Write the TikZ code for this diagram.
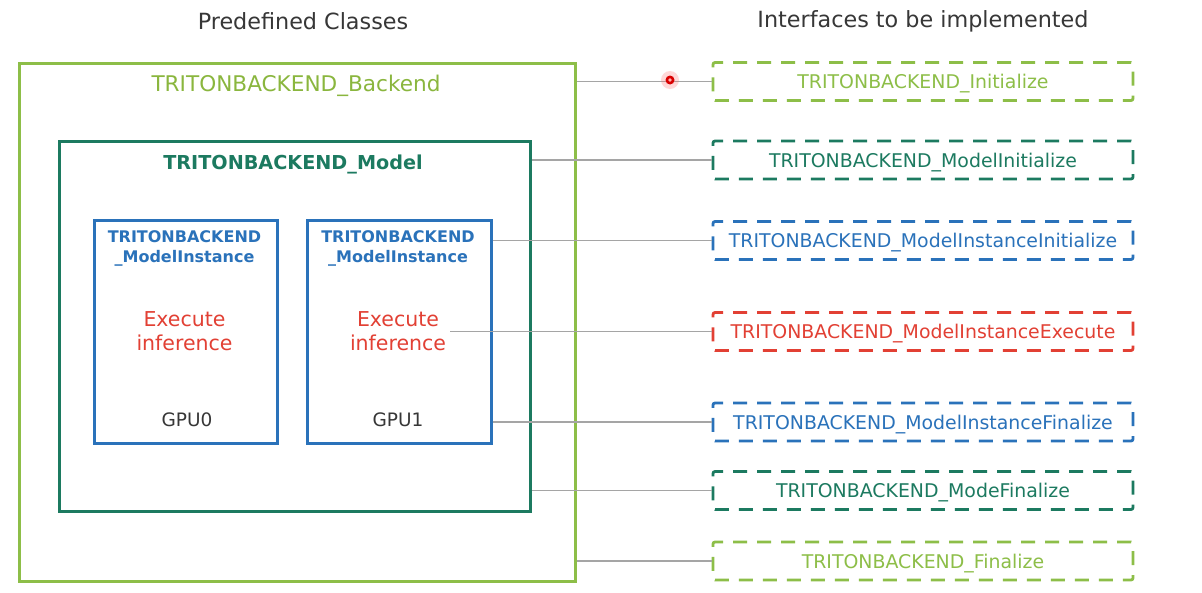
\documentclass[tikz,border=0pt]{standalone}
\usepackage{fontspec}
\setmainfont{DejaVu Sans}
\definecolor{lgreen}{RGB}{141,190,72}
\definecolor{lgreentxt}{RGB}{138,182,62}
\definecolor{teal2}{RGB}{28,122,96}
\definecolor{blue2}{RGB}{42,114,186}
\definecolor{red2}{RGB}{226,64,52}
\definecolor{gray2}{RGB}{165,165,165}
\definecolor{dark2}{RGB}{55,55,55}
\tikzset{
  frame/.style={draw, line width=#1, inner sep=0pt, anchor=north west},
  iface/.style={draw=#1, text=#1, line width=2.8pt, dash pattern=on 14pt off 10pt,
    rounded corners=2pt, minimum width=420pt, minimum height=38pt, inner sep=0pt,
    text height=16pt, text depth=2pt,
    font=\fontsize{18.9}{22}\selectfont},
  conn/.style={draw=gray2, line width=1.3pt},
  head/.style={font=\fontsize{22.3}{26}\selectfont, text=dark2},
}
\begin{document}
\begin{tikzpicture}[x=1pt,y=-1pt]
\useasboundingbox[fill=white] (0,0) rectangle (1202,592);
% headers
\node[head] (h1) at (303,21) {Predefined Classes};
\node[head] (h2) at (923,21) {Interfaces to be implemented};
% predefined classes
\node[frame=3pt, draw=lgreen, minimum width=556pt, minimum height=518pt] (backend) at (18,62) {};
\node[text=lgreentxt, font=\fontsize{21.6}{24}\selectfont] (backendt) at (296,85.5) {TRITONBACKEND\_Backend};
\node[frame=3.2pt, draw=teal2, minimum width=471pt, minimum height=370pt] (model) at (58,140) {};
\node[text=teal2, font=\bfseries\fontsize{19.2}{22}\selectfont] (modelt) at (293,164.5) {TRITONBACKEND\_Model};
\node[frame=2.6pt, draw=blue2, minimum width=183pt, minimum height=223pt] (inst1) at (93,219) {};
\node[frame=2.6pt, draw=blue2, minimum width=184pt, minimum height=223pt] (inst2) at (306,219) {};
\node[text=blue2, font=\bfseries\fontsize{16}{20}\selectfont, align=center] (inst1t) at (184.5,248) {TRITONBACKEND\\\_ModelInstance};
\node[text=blue2, font=\bfseries\fontsize{16}{20}\selectfont, align=center] (inst2t) at (398,248) {TRITONBACKEND\\\_ModelInstance};
\node[text=red2, font=\fontsize{20.5}{23.5}\selectfont, align=center, inner sep=0pt] (exec1) at (184.5,331) {Execute\\inference};
\node[text=red2, font=\fontsize{20.5}{23.5}\selectfont, align=center, inner sep=0pt] (exec2) at (398,331) {Execute\\inference};
\node[text=dark2, font=\fontsize{18.5}{20}\selectfont] (gpu0) at (187,420) {GPU0};
\node[text=dark2, font=\fontsize{18.5}{20}\selectfont] (gpu1) at (398,420) {GPU1};
% interfaces
\node[iface=lgreen] (ini) at (923,81.5) {TRITONBACKEND\_Initialize};
\node[iface=teal2] (mini) at (923,160) {TRITONBACKEND\_ModelInitialize};
\node[iface=blue2] (iini) at (923,240.5) {TRITONBACKEND\_ModelInstanceInitialize};
\node[iface=red2] (iexe) at (923,331.5) {TRITONBACKEND\_ModelInstanceExecute};
\node[iface=blue2] (ifin) at (923,422) {TRITONBACKEND\_ModelInstanceFinalize};
\node[iface=teal2] (mfin) at (923,490.5) {TRITONBACKEND\_ModeFinalize};
\node[iface=lgreen] (fin) at (923,561) {TRITONBACKEND\_Finalize};
% connectors
\draw[conn] (ini.west -| backend.east) -- (ini.west);
\draw[conn] (mini.west -| model.east) -- (mini.west);
\draw[conn] (iini.west -| inst2.east) -- (iini.west);
\draw[conn] ([xshift=4pt]exec2.east |- iexe.west) -- (iexe.west);
\draw[conn] (ifin.west -| inst2.east) -- (ifin.west);
\draw[conn] (mfin.west -| model.east) -- (mfin.west);
\draw[conn] (fin.west -| backend.east) -- (fin.west);
% pointer highlight
\coordinate (ptr) at (670,80);
\fill[red!60, opacity=0.25] (ptr) circle (9pt);
\fill[red!85!black] (ptr) circle (4.5pt);
\fill[red!30] (ptr) circle (1.8pt);
\end{tikzpicture}
\end{document}
